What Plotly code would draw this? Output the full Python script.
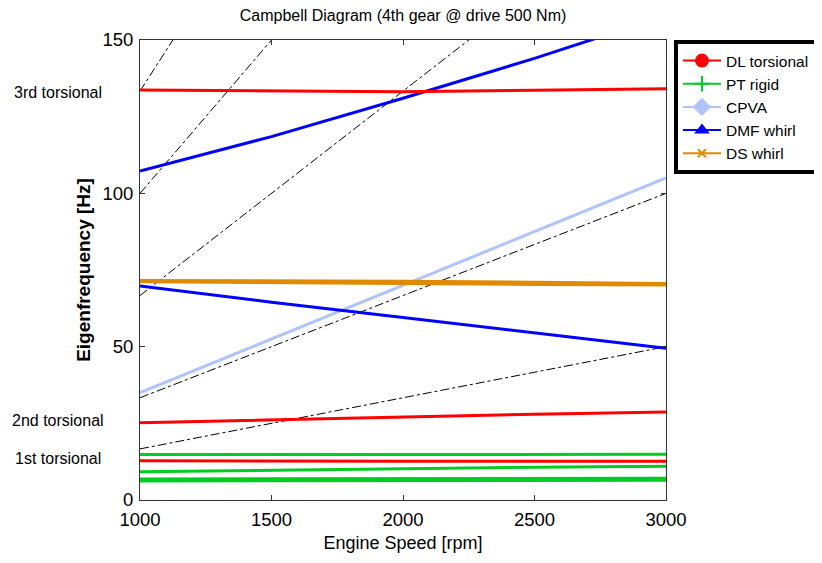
import plotly.graph_objects as go

rpm = [1000, 1500, 2000, 2500, 3000]

# DL torsional (red)
dl_3rd = [133.7, 133.3, 133.1, 133.6, 134.1]
dl_2nd = [25.2, 26.2, 27.2, 28.0, 28.7]
dl_1st = [12.8, 12.6, 12.6, 12.6, 12.6]

# PT rigid (green)
pt_a = [14.8, 14.8, 14.8, 14.8, 14.9]
pt_b = [9.2, 9.6, 10.2, 10.7, 11.0]
pt_c = [6.5, 6.6, 6.7, 6.7, 6.8]

# CPVA (light blue)
cpva = [35.0, 52.5, 70.0, 87.5, 105.0]

# DMF whirl (blue)
dmf_up = [107.3, 118.5, 131.0, 144.0, 158.0]
dmf_low = [69.8, 64.5, 59.5, 54.5, 49.5]

# DS whirl (orange)
ds_a = [71.6, 71.5, 71.3, 71.0, 70.6]
ds_b = [71.2, 71.0, 70.6, 70.3, 70.1]

# engine orders (dash-dot)
orders = [1, 2, 4, 6, 8]
order_rpm = [1000, 3000]

legend_names = ["DL torsional", "PT rigid", "CPVA", "DMF whirl", "DS whirl"]
RED, GREEN, LBLUE, BLUE, ORANGE = "#FF0000", "#00CC22", "#AFC3FF", "#0000FF", "#E08A00"

fig = go.Figure()

for k in orders:
    fig.add_trace(go.Scatter(x=order_rpm, y=[k * r / 60 for r in order_rpm], mode="lines",
                             line=dict(color="black", width=1, dash="dashdot"), showlegend=False,
                             hoverinfo="skip"))

def add(y, color, width, x=rpm):
    fig.add_trace(go.Scatter(x=x, y=y, mode="lines", line=dict(color=color, width=width),
                             showlegend=False))

add(cpva, LBLUE, 3)
add(ds_a, ORANGE, 3)
add(ds_b, ORANGE, 3)
add(dmf_up, BLUE, 3)
add(dmf_low, BLUE, 3)
add(pt_a, GREEN, 3)
add(pt_b, GREEN, 3)
add(pt_c, GREEN, 5)
add(dl_3rd, RED, 3)
add(dl_2nd, RED, 3)
add(dl_1st, RED, 3)

# legend entries
markers = [("circle", RED, 12), ("cross-thin", GREEN, 11), ("diamond", LBLUE, 12),
           ("triangle-up", BLUE, 10), ("x-thin", ORANGE, 8)]
for name, (sym, col, sz) in zip(legend_names, markers):
    fig.add_trace(go.Scatter(x=[None], y=[None], mode="lines+markers", name=name,
                             line=dict(color=col, width=2),
                             marker=dict(symbol=sym, color=col, size=sz,
                                         line=dict(color=col, width=2))))

font = "Liberation Sans, Arial, sans-serif"
ann = [("3rd torsional", 133), ("2nd torsional", 26), ("1st torsional", 13.4)]
for txt, yv in ann:
    fig.add_annotation(x=-0.155, xref="paper", y=yv, yref="y", text=txt, showarrow=False,
                       xanchor="center", yanchor="middle", font=dict(size=16, color="black", family=font))

fig.update_layout(
    width=822, height=563,
    margin=dict(l=132, r=162, t=32, b=71),
    paper_bgcolor="white", plot_bgcolor="white",
    font=dict(family=font, color="black", size=18.5),
    title=dict(text="Campbell Diagram (4th gear @ drive 500 Nm)", x=(404 - 8 - 132) / 528, xref="paper",
               xanchor="center", y=1 - 7 / 563, yanchor="middle", font=dict(size=16)),
    showlegend=True,
    legend=dict(x=(676 - 140) / 528, y=1.0, xanchor="left", yanchor="top", bordercolor="black",
                borderwidth=4, bgcolor="white", font=dict(size=15.5), tracegroupgap=0,
                itemwidth=38),
)
fig.update_xaxes(range=[1000, 3000], tickvals=[1000, 1500, 2000, 2500, 3000],
                 showgrid=False, zeroline=False, showline=True, linecolor="#333", linewidth=1,
                 mirror="allticks", ticks="inside", ticklen=5, tickcolor="#333",
                 ticklabelstandoff=3,
                 title=dict(text="Engine Speed [rpm]", standoff=7, font=dict(size=18)))
fig.update_yaxes(range=[0, 150], tickvals=[0, 50, 100, 150],
                 showgrid=False, zeroline=False, showline=True, linecolor="#333", linewidth=1,
                 mirror="allticks", ticks="inside", ticklen=5, tickcolor="#333",
                 ticklabelstandoff=2,
                 title=dict(text="<b>Eigenfrequency [Hz]</b>", standoff=6, font=dict(size=19)))

fig.write_html("out.html")
